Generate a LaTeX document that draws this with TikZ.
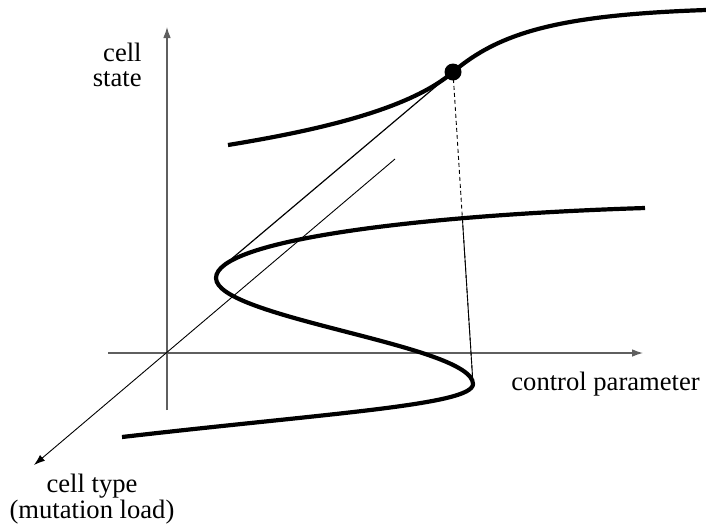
\documentclass[tikz,border=0pt]{standalone}
\usepackage{fontspec}
\setmainfont{Liberation Serif}
\usepackage{xcolor}
\usepackage{tikz}
\usetikzlibrary{calc,arrows.meta}
\definecolor{axisgray}{RGB}{95,95,95}
\tikzset{
  axisline/.style={axisgray, line width=0.6pt, -{Latex[length=5.5pt,width=3.8pt]}},
  branch/.style={line width=2.1pt},
  guide/.style={line width=0.6pt},
  lbl/.style={inner sep=0pt, font=\fontsize{13.3}{13.5}\selectfont}
}

\begin{document}
\begin{tikzpicture}[x=0.5pt,y=-0.5pt]
\useasboundingbox (0,0) rectangle (706,527);
% axes
\coordinate (orig) at (167,353);
\coordinate (ytop) at (167,27);
\coordinate (ybot) at (167,410);
\coordinate (xleft) at (108,353);
\coordinate (xright) at (643,353);
\coordinate (zback) at (395,159);
\coordinate (zfront) at (34,465);
\draw[axisline] (ybot)--(ytop);
\draw[axisline] (xleft)--(xright);
\draw[axisline, black, line width=0.45pt] (zback)--(zfront);
% branches
\coordinate (dot) at (453,72);
\coordinate (foldL) at (216,278);
\coordinate (foldR) at (473,384);
\coordinate (touch) at (229,261);
\coordinate (cross) at ($(dot)!0.477!(foldR)$);
\draw[branch] (228,145) .. controls (320,130) and (410,109) .. (dot)
  .. controls (500,32) and (560,15) .. (706,10);
\draw[branch] (645,208) .. controls (420,215) and (216,240) .. (foldL)
  .. controls (216,318) and (473,345) .. (foldR)
  .. controls (473,405) and (330,413) .. (122,437);
% projections
\draw[guide] (dot)--(touch);
\draw[guide, line width=0.45pt, dash pattern=on 2pt off 1.5pt] (dot)--(foldR);
\draw[guide, line width=0.45pt] (cross)--(foldR);
\fill (dot) circle (4.25pt);
% labels
\node[lbl, anchor=base west] (ctrl) at (511,390) {control parameter};
\node[lbl, anchor=base east, align=right] (state) at (142,86) {cell\\[-1pt]state};
\node[lbl, anchor=base, align=center] (ctype) at (92,518) {cell type\\[-0.5pt](mutation load)};
\end{tikzpicture}
\end{document}
